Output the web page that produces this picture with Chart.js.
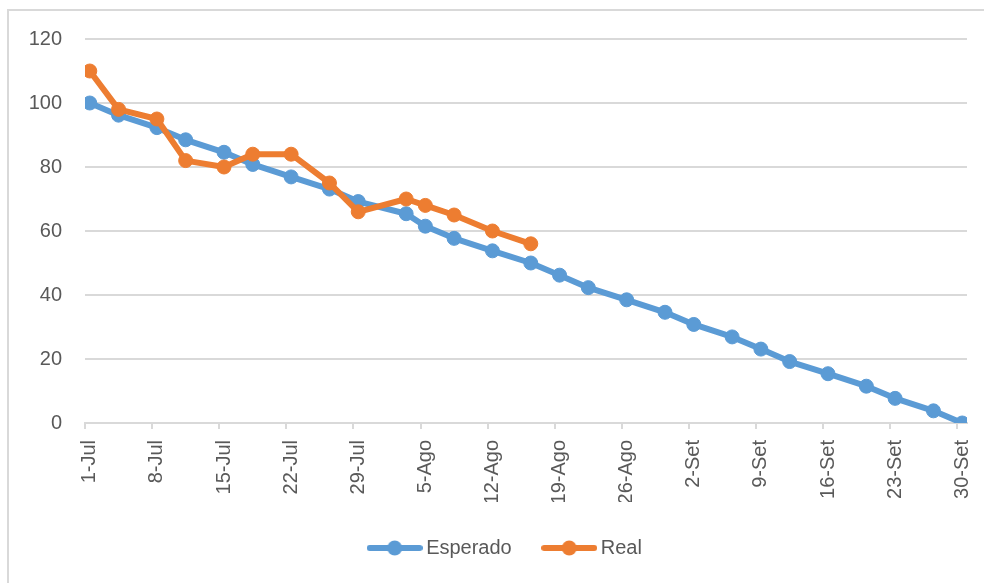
<!DOCTYPE html>
<html>
<head>
<meta charset="utf-8">
<script src="https://cdn.jsdelivr.net/npm/chart.js@4.4.1/dist/chart.umd.min.js"></script>
<style>
  html, body { margin: 0; padding: 0; background: #fff; overflow: hidden; }
  #frame { position: absolute; left: 7px; top: 9px; width: 1100px; height: 700px; border: 2px solid #d9d9d9; }
  #wrap { position: absolute; left: 0; top: 0; width: 984px; height: 583px; }
</style>
</head>
<body>
<div id="frame"></div>
<div id="wrap"><canvas id="burndown"></canvas></div>
<script>
// --- data ---
const fechasEsperado = ['1-Jul', '4-Jul', '8-Jul', '11-Jul', '15-Jul', '18-Jul', '22-Jul', '26-Jul', '29-Jul',
    '3-Ago', '5-Ago', '8-Ago', '12-Ago', '16-Ago', '19-Ago', '22-Ago', '26-Ago', '30-Ago',
    '2-Set', '6-Set', '9-Set', '12-Set', '16-Set', '20-Set', '23-Set', '27-Set', '30-Set'];
const esperado = [100, 96.2, 92.3, 88.5, 84.6, 80.8, 76.9, 73.1, 69.2,
    65.4, 61.5, 57.7, 53.8, 50, 46.2, 42.3, 38.5, 34.6,
    30.8, 26.9, 23.1, 19.2, 15.4, 11.5, 7.7, 3.8, 0];

const fechasReal = ['1-Jul', '4-Jul', '8-Jul', '11-Jul', '15-Jul', '18-Jul', '22-Jul', '26-Jul', '29-Jul',
    '3-Ago', '5-Ago', '8-Ago', '12-Ago', '16-Ago'];
const real = [110, 98, 95, 82, 80, 84, 84, 75, 66, 70, 68, 65, 60, 56];

const tickLabels = ['1-Jul', '8-Jul', '15-Jul', '22-Jul', '29-Jul', '5-Ago', '12-Ago',
    '19-Ago', '26-Ago', '2-Set', '9-Set', '16-Set', '23-Set', '30-Set'];
const yTicks = [0, 20, 40, 60, 80, 100, 120];

// day offset from 1-Jul
const mesInicio = { Jul: 0, Ago: 31, Set: 62 };
function dia(f) {
    const [d, m] = f.split('-');
    return mesInicio[m] + Number(d) - 1;
}

const AZUL = '#5b9bd5';
const NARANJA = '#ed7d31';
const TEXTO = '#595959';
const GRID = '#d9d9d9';
const FONT = { family: '"Liberation Sans", Arial, sans-serif', size: 20 };

// legend sample: line with a marker, like Excel
function muestra(color) {
    const c = document.createElement('canvas');
    c.width = 56; c.height = 16;
    const g = c.getContext('2d');
    g.strokeStyle = color;
    g.lineWidth = 6;
    g.lineCap = 'round';
    g.beginPath(); g.moveTo(3, 8); g.lineTo(53, 8); g.stroke();
    g.fillStyle = color;
    g.beginPath(); g.arc(28, 8, 7.5, 0, Math.PI * 2); g.fill();
    return c;
}
const muestras = [muestra(AZUL), muestra(NARANJA)];

// Excel puts date tick marks on the day boundary (half a day left of the label)
const tickMarks = {
    id: 'tickMarks',
    afterDraw(chart) {
        const x = chart.scales.x, ctx = chart.ctx;
        ctx.save();
        ctx.strokeStyle = GRID;
        ctx.lineWidth = 2;
        tickLabels.forEach(t => {
            const px = Math.round(x.getPixelForValue(dia(t) - 0.5));
            ctx.beginPath();
            ctx.moveTo(px, x.top);
            ctx.lineTo(px, x.top + 6);
            ctx.stroke();
        });
        ctx.restore();
    }
};

// nudge the centred legend to where Excel puts it
const legendShift = {
    id: 'legendShift',
    afterLayout(chart) {
        chart.legend.left += 24;
        chart.legend.right += 24;
    }
};

new Chart(document.getElementById('burndown'), {
    type: 'line',
    data: {
        datasets: [
            {
                label: 'Esperado',
                data: esperado.map((v, i) => ({ x: dia(fechasEsperado[i]), y: v })),
                borderColor: AZUL,
                backgroundColor: AZUL,
                order: 1
            },
            {
                label: 'Real',
                data: real.map((v, i) => ({ x: dia(fechasReal[i]), y: v })),
                borderColor: NARANJA,
                backgroundColor: NARANJA,
                order: 0
            }
        ]
    },
    options: {
        responsive: true,
        maintainAspectRatio: false,
        animation: false,
        layout: { padding: { left: 0, top: 39, right: 17, bottom: 15 } },
        elements: {
            line: { borderWidth: 6, tension: 0, borderJoinStyle: 'round', borderCapStyle: 'round', fill: false },
            point: { radius: 7, hoverRadius: 7, borderWidth: 1 }
        },
        plugins: {
            tooltip: { enabled: false },
            legend: {
                position: 'bottom',
                labels: {
                    usePointStyle: true,
                    pointStyleWidth: 43,
                    padding: 36,
                    color: TEXTO,
                    font: FONT,
                    sort: (a, b) => a.datasetIndex - b.datasetIndex,
                    generateLabels(chart) {
                        const items = Chart.defaults.plugins.legend.labels.generateLabels(chart);
                        items.forEach(it => { it.pointStyle = muestras[it.datasetIndex]; });
                        return items;
                    }
                }
            }
        },
        scales: {
            x: {
                type: 'linear',
                min: -0.5,
                max: 91.5,
                afterFit(s) {
                    s.height = 79;
                    s.paddingLeft = 0;
                    s.paddingRight = 0;
                },
                afterBuildTicks(s) { s.ticks = tickLabels.map(t => ({ value: dia(t) })); },
                grid: { display: false, drawTicks: false },
                border: { display: true, color: GRID, width: 2 },
                ticks: {
                    autoSkip: false,
                    minRotation: 90,
                    maxRotation: 90,
                    padding: 17,
                    color: TEXTO,
                    font: FONT,
                    callback: (v, i) => tickLabels[i]
                }
            },
            y: {
                min: 0,
                max: 120,
                afterFit(s) { s.width = 85; },
                afterBuildTicks(s) { s.ticks = yTicks.map(v => ({ value: v })); },
                grid: { color: GRID, lineWidth: 2, drawTicks: false },
                border: { display: false },
                ticks: {
                    padding: 23,
                    color: TEXTO,
                    font: FONT
                }
            }
        }
    },
    plugins: [tickMarks, legendShift]
});
</script>
</body>
</html>
